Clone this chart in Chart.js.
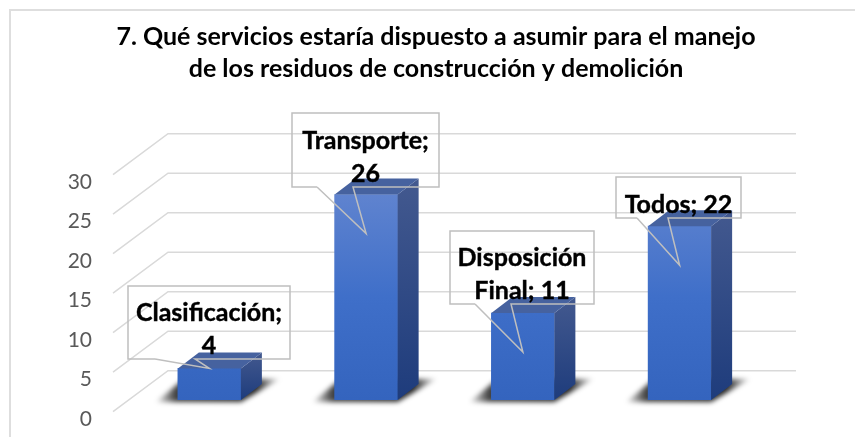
<!DOCTYPE html>
<html>
<head>
<meta charset="utf-8">
<style>
  html, body { margin: 0; padding: 0; background: #fff; }
  #box { width: 855px; height: 437px; }
</style>
<script src="https://cdn.jsdelivr.net/npm/chart.js@4"></script>
</head>
<body>
<div id="box"><canvas id="grafico"></canvas></div>
<script>
const categorias = ['Clasificación', 'Transporte', 'Disposición Final', 'Todos'];
const valores = [4, 26, 11, 22];
const ticksY = [0, 5, 10, 15, 20, 25, 30];
const titulo = ['7. Qué servicios estaría dispuesto a asumir para el manejo',
                'de los residuos de construcción y demolición'];
const etiquetas = [['Clasificación;', '4'], ['Transporte;', '26'], ['Disposición', 'Final; 11'], ['Todos; 22']];

// caja de cada etiqueta: x1, y1, x2, y2, inicio y fin de la cola, caida de la punta
const cajas = [
    [128, 286, 290, 359, 155, 195, 0],
    [292, 113, 439, 187, 317, 353, 39],
    [450, 231, 594, 304, 475, 511, 39],
    [616, 177, 741, 218, 637, 668, 39]
];

const FUENTE = 'Lato, Carlito, sans-serif';
const PROF_X = 21, PROF_Y = 16;

function poligono(c, pts) {
    c.beginPath();
    pts.forEach((p, i) => i ? c.lineTo(p[0], p[1]) : c.moveTo(p[0], p[1]));
    c.closePath();
}

function linea(c, pts) {
    c.beginPath();
    pts.forEach((p, i) => i ? c.lineTo(p[0], p[1]) : c.moveTo(p[0], p[1]));
    c.stroke();
}

// marco, rejilla en perspectiva y sombras, antes de las barras
const fondo3d = {
    id: 'fondo3d',
    beforeDatasetsDraw(chart) {
        const c = chart.ctx, y = chart.scales.y;
        c.save();
        c.strokeStyle = '#DEDEDE';
        c.lineWidth = 2;
        linea(c, [[10, 437], [10, 10], [855, 10]]);

        c.strokeStyle = '#D9D9D9';
        c.lineWidth = 1.5;
        ticksY.forEach(v => {
            const p = y.getPixelForValue(v);
            linea(c, [[113, p + 11.7], [168, p - 29.3], [796, p - 29.3]]);
        });

        const base = y.getPixelForValue(0);
        chart.getDatasetMeta(0).data.forEach(b => {
            const izq = b.x - b.width / 2, der = b.x + b.width / 2;
            const g = c.createLinearGradient(izq - 22, 0, der + 40, 0);
            g.addColorStop(0, 'rgba(0,0,0,0.05)');
            g.addColorStop(0.16, 'rgba(0,0,0,0.75)');
            g.addColorStop(0.8, 'rgba(0,0,0,0.85)');
            g.addColorStop(1, 'rgba(0,0,0,0.03)');
            c.save();
            c.filter = 'blur(2.5px)';
            c.fillStyle = g;
            poligono(c, [[izq - 22, base + 2], [der, base + 2], [der + PROF_X + 18, base - PROF_Y - 5], [izq + 6, base - PROF_Y - 5]]);
            c.fill();
            c.restore();
        });
        c.restore();
    }
};

// caras lateral y superior de cada barra
const caras3d = {
    id: 'caras3d',
    afterDatasetsDraw(chart) {
        const c = chart.ctx, base = chart.scales.y.getPixelForValue(0);
        c.save();
        chart.getDatasetMeta(0).data.forEach(b => {
            const izq = b.x - b.width / 2, der = b.x + b.width / 2, top = b.y;
            const g = c.createLinearGradient(0, top - PROF_Y, 0, base);
            g.addColorStop(0, '#43598F');
            g.addColorStop(1, '#1E3C7C');
            c.fillStyle = g;
            poligono(c, [[der, top], [der + PROF_X, top - PROF_Y], [der + PROF_X, base - PROF_Y], [der, base]]);
            c.fill();
            c.fillStyle = '#46629F';
            poligono(c, [[izq, top], [izq + PROF_X, top - PROF_Y], [der + PROF_X, top - PROF_Y], [der, top]]);
            c.fill();
        });
        c.restore();
    }
};

// etiquetas con globo, sin relleno como en el original
const globos = {
    id: 'globos',
    afterDraw(chart) {
        const c = chart.ctx;
        c.save();
        chart.getDatasetMeta(0).data.forEach((b, i) => {
            const [x1, y1, x2, y2, cola1, cola2, caida] = cajas[i];
            c.strokeStyle = '#BFBFBF';
            c.lineWidth = 1.5;
            c.lineJoin = 'miter';
            linea(c, [[cola1, y2], [x1, y2], [x1, y1], [x2, y1], [x2, y2], [cola2, y2], [b.x, b.y + caida], [cola1, y2]]);

            c.fillStyle = '#000';
            c.strokeStyle = '#000';
            c.lineWidth = 0.4;
            c.font = 'bold 25px ' + FUENTE;
            c.textAlign = 'center';
            c.textBaseline = 'middle';
            const lineas = etiquetas[i];
            const cx = (x1 + x2) / 2, cy = (y1 + y2) / 2 + 7;
            lineas.forEach((t, k) => {
                const py = cy + (k - (lineas.length - 1) / 2) * 33;
                c.fillText(t, cx, py);
                c.strokeText(t, cx, py);
            });
        });
        c.restore();
    }
};

const ctx = document.getElementById('grafico').getContext('2d');

function gradienteBarra(context) {
    const area = context.chart.chartArea;
    if (!area) return '#3F6FC9';
    const y = context.chart.scales.y;
    const g = context.chart.ctx.createLinearGradient(0, y.getPixelForValue(26), 0, y.getPixelForValue(0));
    g.addColorStop(0, '#5F83CF');
    g.addColorStop(0.5, '#3F6FC9');
    g.addColorStop(1, '#3464BE');
    return g;
}

new Chart(ctx, {
    type: 'bar',
    data: {
        labels: categorias,
        datasets: [{
            data: valores,
            backgroundColor: gradienteBarra,
            borderWidth: 0,
            barThickness: 63
        }]
    },
    options: {
        responsive: true,
        maintainAspectRatio: false,
        animation: false,
        layout: { padding: { left: 17, right: 0, top: 0, bottom: 37 } },
        plugins: {
            legend: { display: false },
            tooltip: { enabled: false },
            title: {
                display: true,
                text: titulo,
                color: '#000',
                font: { family: FUENTE, size: 25, weight: 'bold', lineHeight: 1.28 },
                padding: { top: 21, bottom: 78 }
            }
        },
        scales: {
            x: { display: false, grid: { display: false } },
            y: {
                min: 0,
                max: 30,
                afterFit(s) { s.width = 114; s.paddingTop = 0; s.paddingBottom = 0; },
                afterBuildTicks(s) { s.ticks = ticksY.map(v => ({ value: v })); },
                border: { display: false },
                grid: { display: false },
                ticks: {
                    color: '#595959',
                    font: { family: FUENTE, size: 21 },
                    padding: 31,
                    labelOffset: 19
                }
            },
            // eje vacio a la derecha: deja el margen sin descentrar el titulo
            yDer: {
                position: 'right',
                afterFit(s) { s.width = 97; s.paddingTop = 0; s.paddingBottom = 0; },
                border: { display: false },
                grid: { display: false },
                ticks: { display: false }
            }
        }
    },
    plugins: [fondo3d, caras3d, globos]
});
</script>
</body>
</html>
